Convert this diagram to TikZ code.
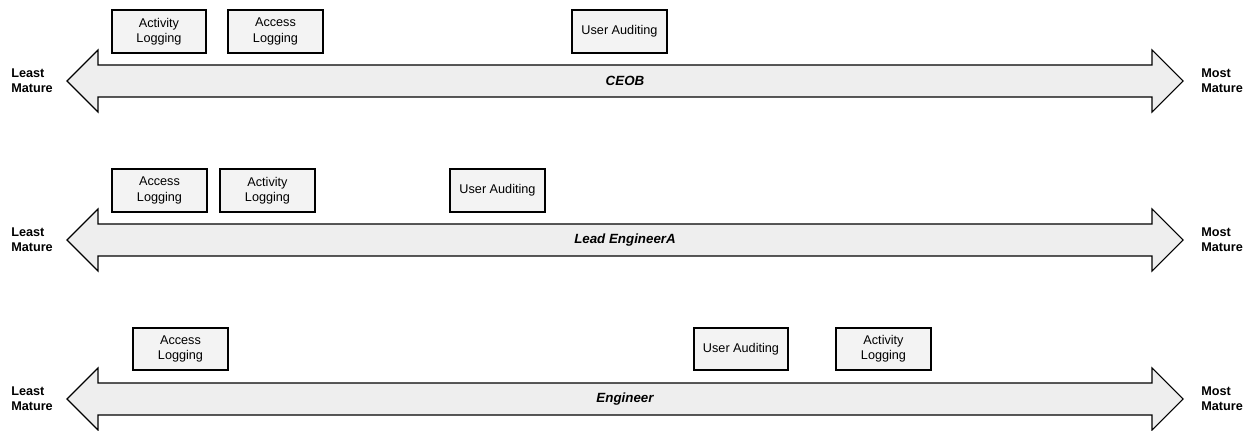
\documentclass[tikz,border=0pt]{standalone}
\usepackage{fontspec}
\setmainfont{Liberation Sans}
\definecolor{boxfill}{HTML}{F3F3F3}
\definecolor{bandfill}{HTML}{EEEEEE}

\begin{document}
\begin{tikzpicture}[x=0.75pt,y=-0.75pt,
		stage/.style={draw, line width=1.4pt, fill=boxfill, minimum width=71pt, minimum height=32pt, align=center, inner sep=1pt, font=\fontsize{9.5}{11.5}\selectfont},
		band/.style={draw, line width=0.8pt, fill=bandfill, line join=miter},
		ends/.style={font=\bfseries\fontsize{9.5}{11.5}\selectfont, align=left, anchor=west, inner sep=0pt}]
		\useasboundingbox (0,0) rectangle (1247,431);
		
		% Maturity arrows
		\foreach \yc/\who/\id in {81/CEOB/ceo, 240/Lead EngineerA/lead, 399/Engineer/eng}{
			\draw[band] (67,\yc) -- (98,\yc-31) -- (98,\yc-16) -- (1152,\yc-16) -- (1152,\yc-31) -- (1183,\yc)
				-- (1152,\yc+31) -- (1152,\yc+16) -- (98,\yc+16) -- (98,\yc+31) -- cycle;
			\node[font=\bfseries\itshape\fontsize{10}{12}\selectfont] (\id-name) at (625,\yc) {\who};
			\node[ends] (\id-least) at (11,\yc) {Least\\Mature};
			\node[ends] (\id-most) at (1201,\yc) {Most\\Mature};
		}
		
		% CEOB
		\node[stage] (ceo-act) at (159,31.5) {Activity\\Logging};
		\node[stage] (ceo-acc) at (275.5,31.5) {Access\\Logging};
		\node[stage] (ceo-aud) at (619.5,31.5) {User Auditing};
		
		% Lead EngineerA
		\node[stage] (lead-acc) at (159.5,190.5) {Access\\Logging};
		\node[stage] (lead-act) at (267.5,190.5) {Activity\\Logging};
		\node[stage] (lead-aud) at (497.5,190.5) {User Auditing};
		
		% Engineer
		\node[stage] (eng-acc) at (180.5,349) {Access\\Logging};
		\node[stage] (eng-aud) at (741,349) {User Auditing};
		\node[stage] (eng-act) at (883.5,349) {Activity\\Logging};
	\end{tikzpicture}
\end{document}
